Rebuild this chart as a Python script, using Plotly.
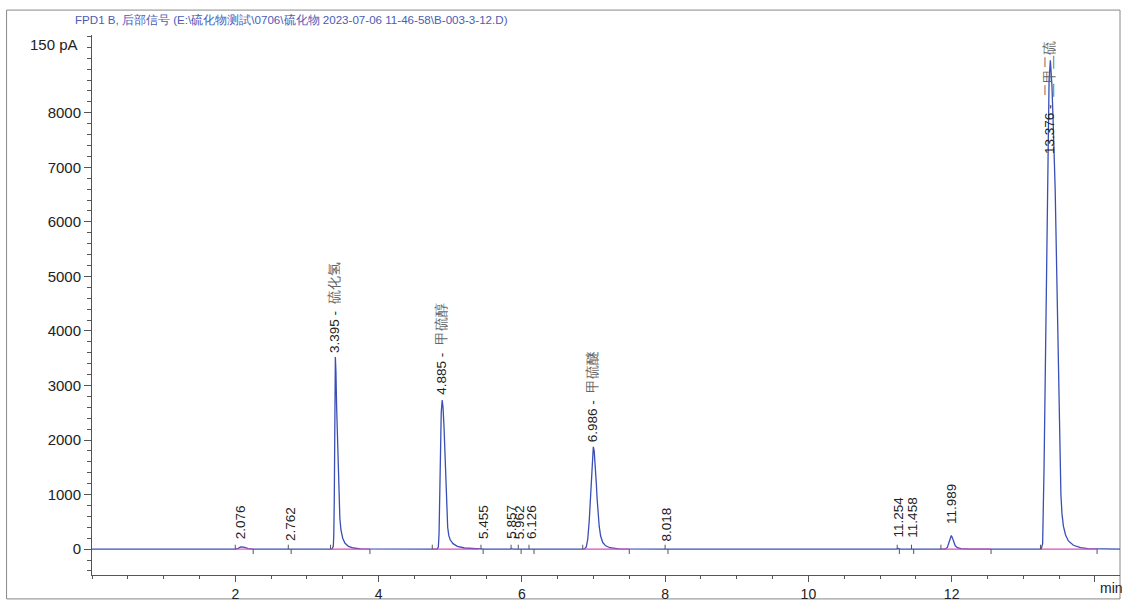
import plotly.graph_objects as go

# ---- data ----
trace_time = [
    0.00, 1.95,
    2.00, 2.04, 2.076, 2.12, 2.18, 2.25,
    2.70, 2.762, 2.80,
    3.35, 3.368, 3.375, 3.382, 3.388, 3.393, 3.397, 3.405, 3.415, 3.426, 3.44, 3.45, 3.46,
    3.475, 3.50, 3.53, 3.58, 3.65, 3.75,
    4.82, 4.835, 4.845, 4.855, 4.865, 4.875, 4.888, 4.90, 4.915, 4.93, 4.945, 4.955, 4.965,
    4.98, 5.00, 5.04, 5.10, 5.20, 5.35,
    5.43, 5.455, 5.48, 5.84, 5.857, 5.88, 5.94, 5.962, 5.99, 6.10, 6.126, 6.15,
    6.87, 6.90, 6.92, 6.94, 6.96, 6.975, 6.99, 6.998, 7.01, 7.025, 7.04, 7.05, 7.065, 7.08,
    7.10, 7.13, 7.17, 7.23, 7.35,
    7.99, 8.018, 8.05,
    11.23, 11.254, 11.28, 11.43, 11.458, 11.48,
    11.91, 11.94, 11.96, 11.98, 11.995, 12.01, 12.03, 12.05, 12.08, 12.13, 12.25,
    13.25, 13.27, 13.28, 13.29, 13.30, 13.315, 13.33, 13.345, 13.36, 13.378, 13.40, 13.42,
    13.445, 13.465, 13.48, 13.495, 13.51, 13.525, 13.54, 13.56, 13.59, 13.63, 13.70, 13.80,
    13.90, 14.35,
]
trace_signal = [
    0, 0,
    0, 15, 40, 35, 10, 0,
    0, 8, 0,
    0, 50, 250, 900, 1900, 2900, 3520, 3250, 2600, 2000, 1300, 900, 560,
    350, 200, 110, 50, 20, 5,
    0, 40, 300, 1200, 2000, 2500, 2730, 2600, 2200, 1700, 1250, 800, 400,
    250, 170, 100, 50, 20, 5,
    0, 8, 0, 0, 8, 0, 0, 8, 0, 0, 8, 0,
    0, 40, 180, 500, 940, 1450, 1820, 1876, 1800, 1550, 1200, 940, 650, 420,
    240, 120, 60, 25, 5,
    0, 8, 0,
    0, 10, 0, 0, 10, 0,
    0, 30, 110, 220, 250, 210, 120, 60, 25, 8, 0,
    0, 100, 600, 1500, 2500, 4200, 6100, 7600, 8600, 8960, 8500, 7700,
    6600, 5200, 4000, 2700, 1700, 1000, 650, 420, 260, 150, 70, 25,
    8, 0,
]

peak_rt = [2.076, 2.762, 3.395, 4.885, 5.455, 5.857, 5.962, 6.126, 6.986, 8.018,
           11.254, 11.458, 11.989, 13.376]
peak_name = ["", "", "硫化氢", "甲硫醇", "", "", "", "", "甲硫醚", "", "", "", "", "二甲二硫"]
label_base = [140, 110, 3560, 2790, 146, 146, 146, 146, 1930, 110, 170, 170, 420, 7200]

integ_start = [2.00, 3.33, 4.75, 6.85, 11.85, 13.24]
integ_end = [2.25, 3.88, 5.40, 7.50, 12.55, 14.03]

event_start = [2.00, 2.74, 3.33, 4.75, 5.43, 5.85, 5.95, 6.10, 6.85, 8.00, 11.24, 11.44, 11.85, 13.24]
event_end = [2.25, 2.78, 3.88, 5.46, 5.99, 6.17, 7.50, 8.04, 11.27, 11.47, 12.55, 14.03]

y_tick_vals = [0, 1000, 2000, 3000, 4000, 5000, 6000, 7000, 8000]
x_tick_vals = [2, 4, 6, 8, 10, 12, 14]
x_tick_text = ["2", "4", "6", "8", "10", "12", ""]

title_text = "FPD1 B, 后部信号 (E:\\硫化物测試\\0706\\硫化物 2023-07-06 11-46-58\\B-003-3-12.D)"

FONT = "Liberation Sans, Arial"

# ---- figure ----
W, H = 1123, 605
L, R, T, B = 92.4, 3, 35, 28
pw, ph = W - L - R, H - T - B

fig = go.Figure()

fig.add_trace(go.Scatter(x=trace_time, y=trace_signal, mode="lines",
                         line=dict(color="#3a4fb5", width=1.3), hoverinfo="skip"))

# integration baselines
bx, by = [], []
for s, e in zip(integ_start, integ_end):
    bx += [s, e, None]
    by += [0, 0, None]
fig.add_trace(go.Scatter(x=bx, y=by, mode="lines",
                         line=dict(color="#d84fb8", width=1.1), hoverinfo="skip"))

# event tick marks
ex, ey = [], []
for s in event_start:
    ex += [s, s, None]
    ey += [0, 80, None]
for e in event_end:
    ex += [e, e, None]
    ey += [0, -90, None]
fig.add_trace(go.Scatter(x=ex, y=ey, mode="lines",
                         line=dict(color="#555555", width=1), hoverinfo="skip"))

# peak labels
for rt, nm, yb in zip(peak_rt, peak_name, label_base):
    txt = f"{rt:.3f}" + (f" -  <span style='color:#666666'>{nm}</span>" if nm else "")
    fig.add_annotation(x=rt, y=yb, text=txt, textangle=-90, showarrow=False,
                       xanchor="center", yanchor="bottom",
                       font=dict(family=FONT, size=13.5, color="#222222"))

fig.update_layout(
    width=W, height=H,
    margin=dict(l=L, r=R, t=T, b=B, pad=0),
    paper_bgcolor="white", plot_bgcolor="white",
    showlegend=False,
    font=dict(family=FONT, size=14, color="#222222"),
    xaxis=dict(range=[0, 14.35], tickvals=x_tick_vals, ticktext=x_tick_text,
               ticks="outside", ticklen=6, tickcolor="#555555",
               minor=dict(dtick=0.5, tick0=0, ticks="outside", ticklen=3, tickcolor="#555555"),
               showline=True, linecolor="#555555", linewidth=1,
               showgrid=False, zeroline=False, tickfont=dict(size=14)),
    yaxis=dict(range=[-475, 9425], tickvals=y_tick_vals,
               ticks="outside", ticklen=7, tickcolor="#555555",
               minor=dict(dtick=200, tick0=0, ticks="outside", ticklen=4, tickcolor="#555555"),
               showline=True, linecolor="#555555", linewidth=1,
               showgrid=False, zeroline=False, tickfont=dict(size=15)),
)

# "150 pA" unit label at top of y axis
fig.add_annotation(xref="paper", yref="y", x=(80 - L) / pw, y=9242, text="150 pA",
                   showarrow=False, xanchor="right", yanchor="middle",
                   font=dict(size=15, color="#222222"))
# "min" label at x axis end
fig.add_annotation(xref="x", yref="paper", x=14.0, y=(H - B - 590) / ph, text="min",
                   showarrow=False, xanchor="left", yanchor="middle", xshift=3,
                   font=dict(size=14, color="#222222"))
# title
fig.add_annotation(xref="paper", yref="paper", x=(73 - L) / pw, y=(H - B - 19) / ph,
                   text=title_text, showarrow=False, xanchor="left", yanchor="middle",
                   font=dict(family=FONT, size=11.6, color="#4a5cb8"))
# outer frame
fig.add_shape(type="rect", xref="paper", yref="paper",
              x0=(7 - L) / pw, x1=(1120 - L) / pw,
              y0=(H - B - 601) / ph, y1=(H - B - 10) / ph,
              line=dict(color="#888888", width=1), fillcolor="rgba(0,0,0,0)", layer="below")

fig.write_html("out.html", config={"displayModeBar": False},
               post_script="document.body.style.margin='0px';document.body.style.overflow='hidden';")
